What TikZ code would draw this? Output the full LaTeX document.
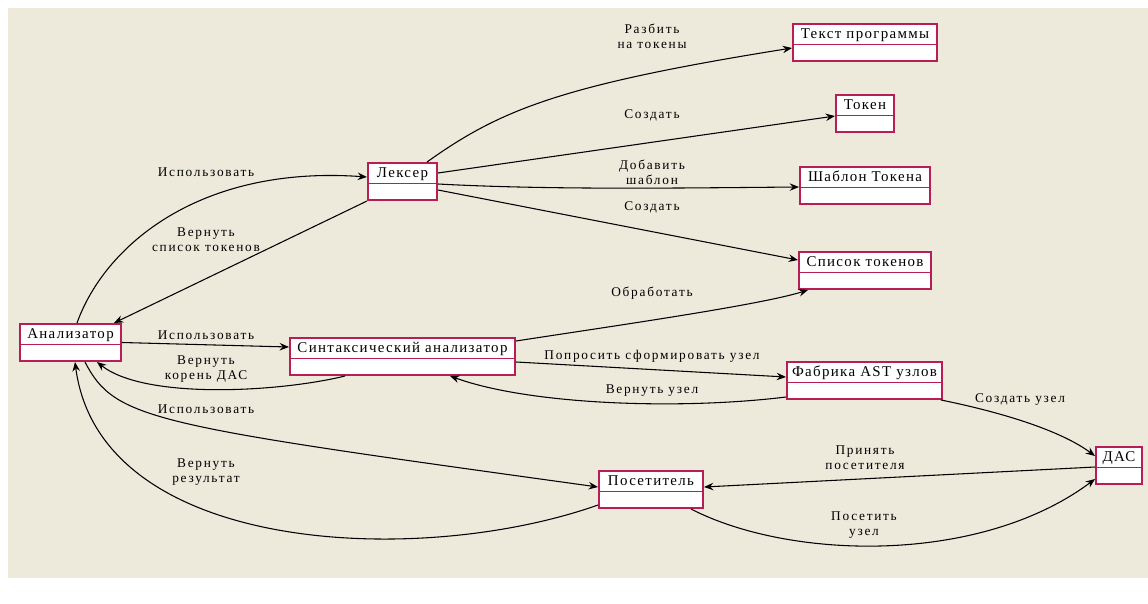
\documentclass[tikz,border=0pt]{standalone}
\usepackage{fontspec}
\setmainfont{Liberation Serif}
\newfontfamily\boxfont[LetterSpace=9]{Liberation Serif}
\newfontfamily\lblfont[LetterSpace=13]{Liberation Serif}
\usetikzlibrary{arrows.meta,calc}
\definecolor{bg}{HTML}{EDE9DB}
\definecolor{crim}{HTML}{B81E55}
\tikzset{
  umlbox/.style={draw=crim, line width=1.5pt, fill=white, minimum height=37*0.75pt, inner sep=0pt, anchor=north},
  umltext/.style={font=\boxfont\fontsize{11.2}{12}\selectfont, inner sep=0pt, anchor=base},
  divider/.style={draw=crim, line width=1.2pt},
  lbl/.style={font=\lblfont\fontsize{10}{11.3}\selectfont, align=center, inner sep=0pt, anchor=center},
  conn/.style={draw=black, line width=0.8pt, -{Stealth[length=7pt,width=5.6pt,inset=2.4pt]}},
}
\newcommand\umlclass[5]{% name, cx, top, width, text
  \node[umlbox, minimum width=#4*0.75pt] (#1) at (#2,#3) {};
  \draw[divider] ($(#1.west)+(0,2)$) -- ($(#1.east)+(0,2)$);
  \node[umltext] (#1t) at ($(#1.north)+(0,15)$) {#5};
}
\begin{document}
\begin{tikzpicture}[x=0.75pt,y=-0.75pt]
\useasboundingbox (0,0) rectangle (1148,603);
\fill[bg] (8,8) rectangle (1148,578);

\umlclass{an}{70.5}{323}{101}{Анализатор}
\umlclass{lx}{402.5}{162}{69}{Лексер}
\umlclass{sa}{402.5}{337}{225}{Синтаксический анализатор}
\umlclass{tp}{865}{23}{144}{Текст программы}
\umlclass{tk}{865}{94}{58}{Токен}
\umlclass{sh}{865}{166}{130}{Шаблон Токена}
\umlclass{sp}{865}{251}{132}{Список токенов}
\umlclass{fa}{864.5}{361}{155}{Фабрика AST узлов}
\umlclass{da}{1119}{446}{46}{ДАС}
\umlclass{po}{651}{470}{104}{Посетитель}

% Lexer edges
\draw[conn] ($(lx.north west)+(60,0)$) .. controls (500,110) and (560,85) .. ($(tp.west)+(0,5.5)$);
\draw[conn] ($(lx.east)+(0,-8.5)$) -- ($(tk.west)+(0,2.5)$);
\draw[conn] ($(lx.east)+(0,2.5)$) .. controls (550,190) and (680,188) .. ($(sh.west)+(0,1.5)$);
\draw[conn] ($(lx.east)+(0,8.5)$) -- ($(sp.west)+(0,-10.5)$);

% Analyzer <-> Lexer
\draw[conn] ($(an.north)+(6.5,0)$) .. controls (105,245) and (200,165) .. ($(lx.west)+(0,-4.5)$);
\draw[conn] (lx.south west) -- ($(an.north east)+(-8,0)$);

% Analyzer <-> Syntax
\draw[conn] (an.east) -- ($(sa.west)+(0,-9.5)$);
\draw[conn] ($(sa.south)+(-57.5,0)$) .. controls (280,392) and (145,400) .. ($(an.south)+(26.5,0)$);

% Syntax edges
\draw[conn] ($(sa.east)+(0,-15.5)$) .. controls (620,325) and (760,305) .. ($(sp.south west)+(10,0)$);
\draw[conn] ($(sa.east)+(0,5.5)$) -- ($(fa.west)+(0,-3.5)$);
\draw[conn] ($(fa.west)+(0,16.5)$) .. controls (680,410) and (530,405) .. ($(sa.south)+(47.5,0)$);
\draw[conn] ($(fa.south east)+(-2,0)$) .. controls (1000,412) and (1060,430) .. ($(da.west)+(0,-9.5)$);

% Analyzer <-> Visitor
\draw[conn] ($(an.south)+(14.5,0)$) .. controls (115,420) and (150,425) .. ($(po.west)+(0,-2.5)$);
\draw[conn] ($(po.west)+(0,15.5)$) .. controls (420,568) and (100,555) .. ($(an.south)+(4.5,0)$);

% DAS <-> Visitor
\draw[conn] ($(da.west)+(0,1.5)$) -- ($(po.east)+(0,-2.5)$);
\draw[conn] ($(po.south east)+(-13,0)$) .. controls (790,560) and (980,565) .. ($(da.west)+(0,13.5)$);

% Labels
\node[lbl] (l1) at (652,36) {Разбить\\на токены};
\node[lbl] (l2) at (652,115) {Создать};
\node[lbl] (l3) at (652,172) {Добавить\\шаблон};
\node[lbl] (l4) at (652,207) {Создать};
\node[lbl] (l5) at (206,172) {Использовать};
\node[lbl] (l6) at (206,240) {Вернуть\\список токенов};
\node[lbl] (l7) at (206,335) {Использовать};
\node[lbl] (l8) at (206,369) {Вернуть\\корень ДАС};
\node[lbl] (l9) at (652,293) {Обработать};
\node[lbl] (l10) at (652,356) {Попросить сформировать узел};
\node[lbl] (l11) at (652,391) {Вернуть узел};
\node[lbl] (l12) at (1020,400) {Создать узел};
\node[lbl] (l13) at (206,409) {Использовать};
\node[lbl] (l14) at (206,472) {Вернуть\\результат};
\node[lbl] (l15) at (865,458) {Принять\\посетителя};
\node[lbl] (l16) at (864,525) {Посетить\\узел};
\end{tikzpicture}
\end{document}
